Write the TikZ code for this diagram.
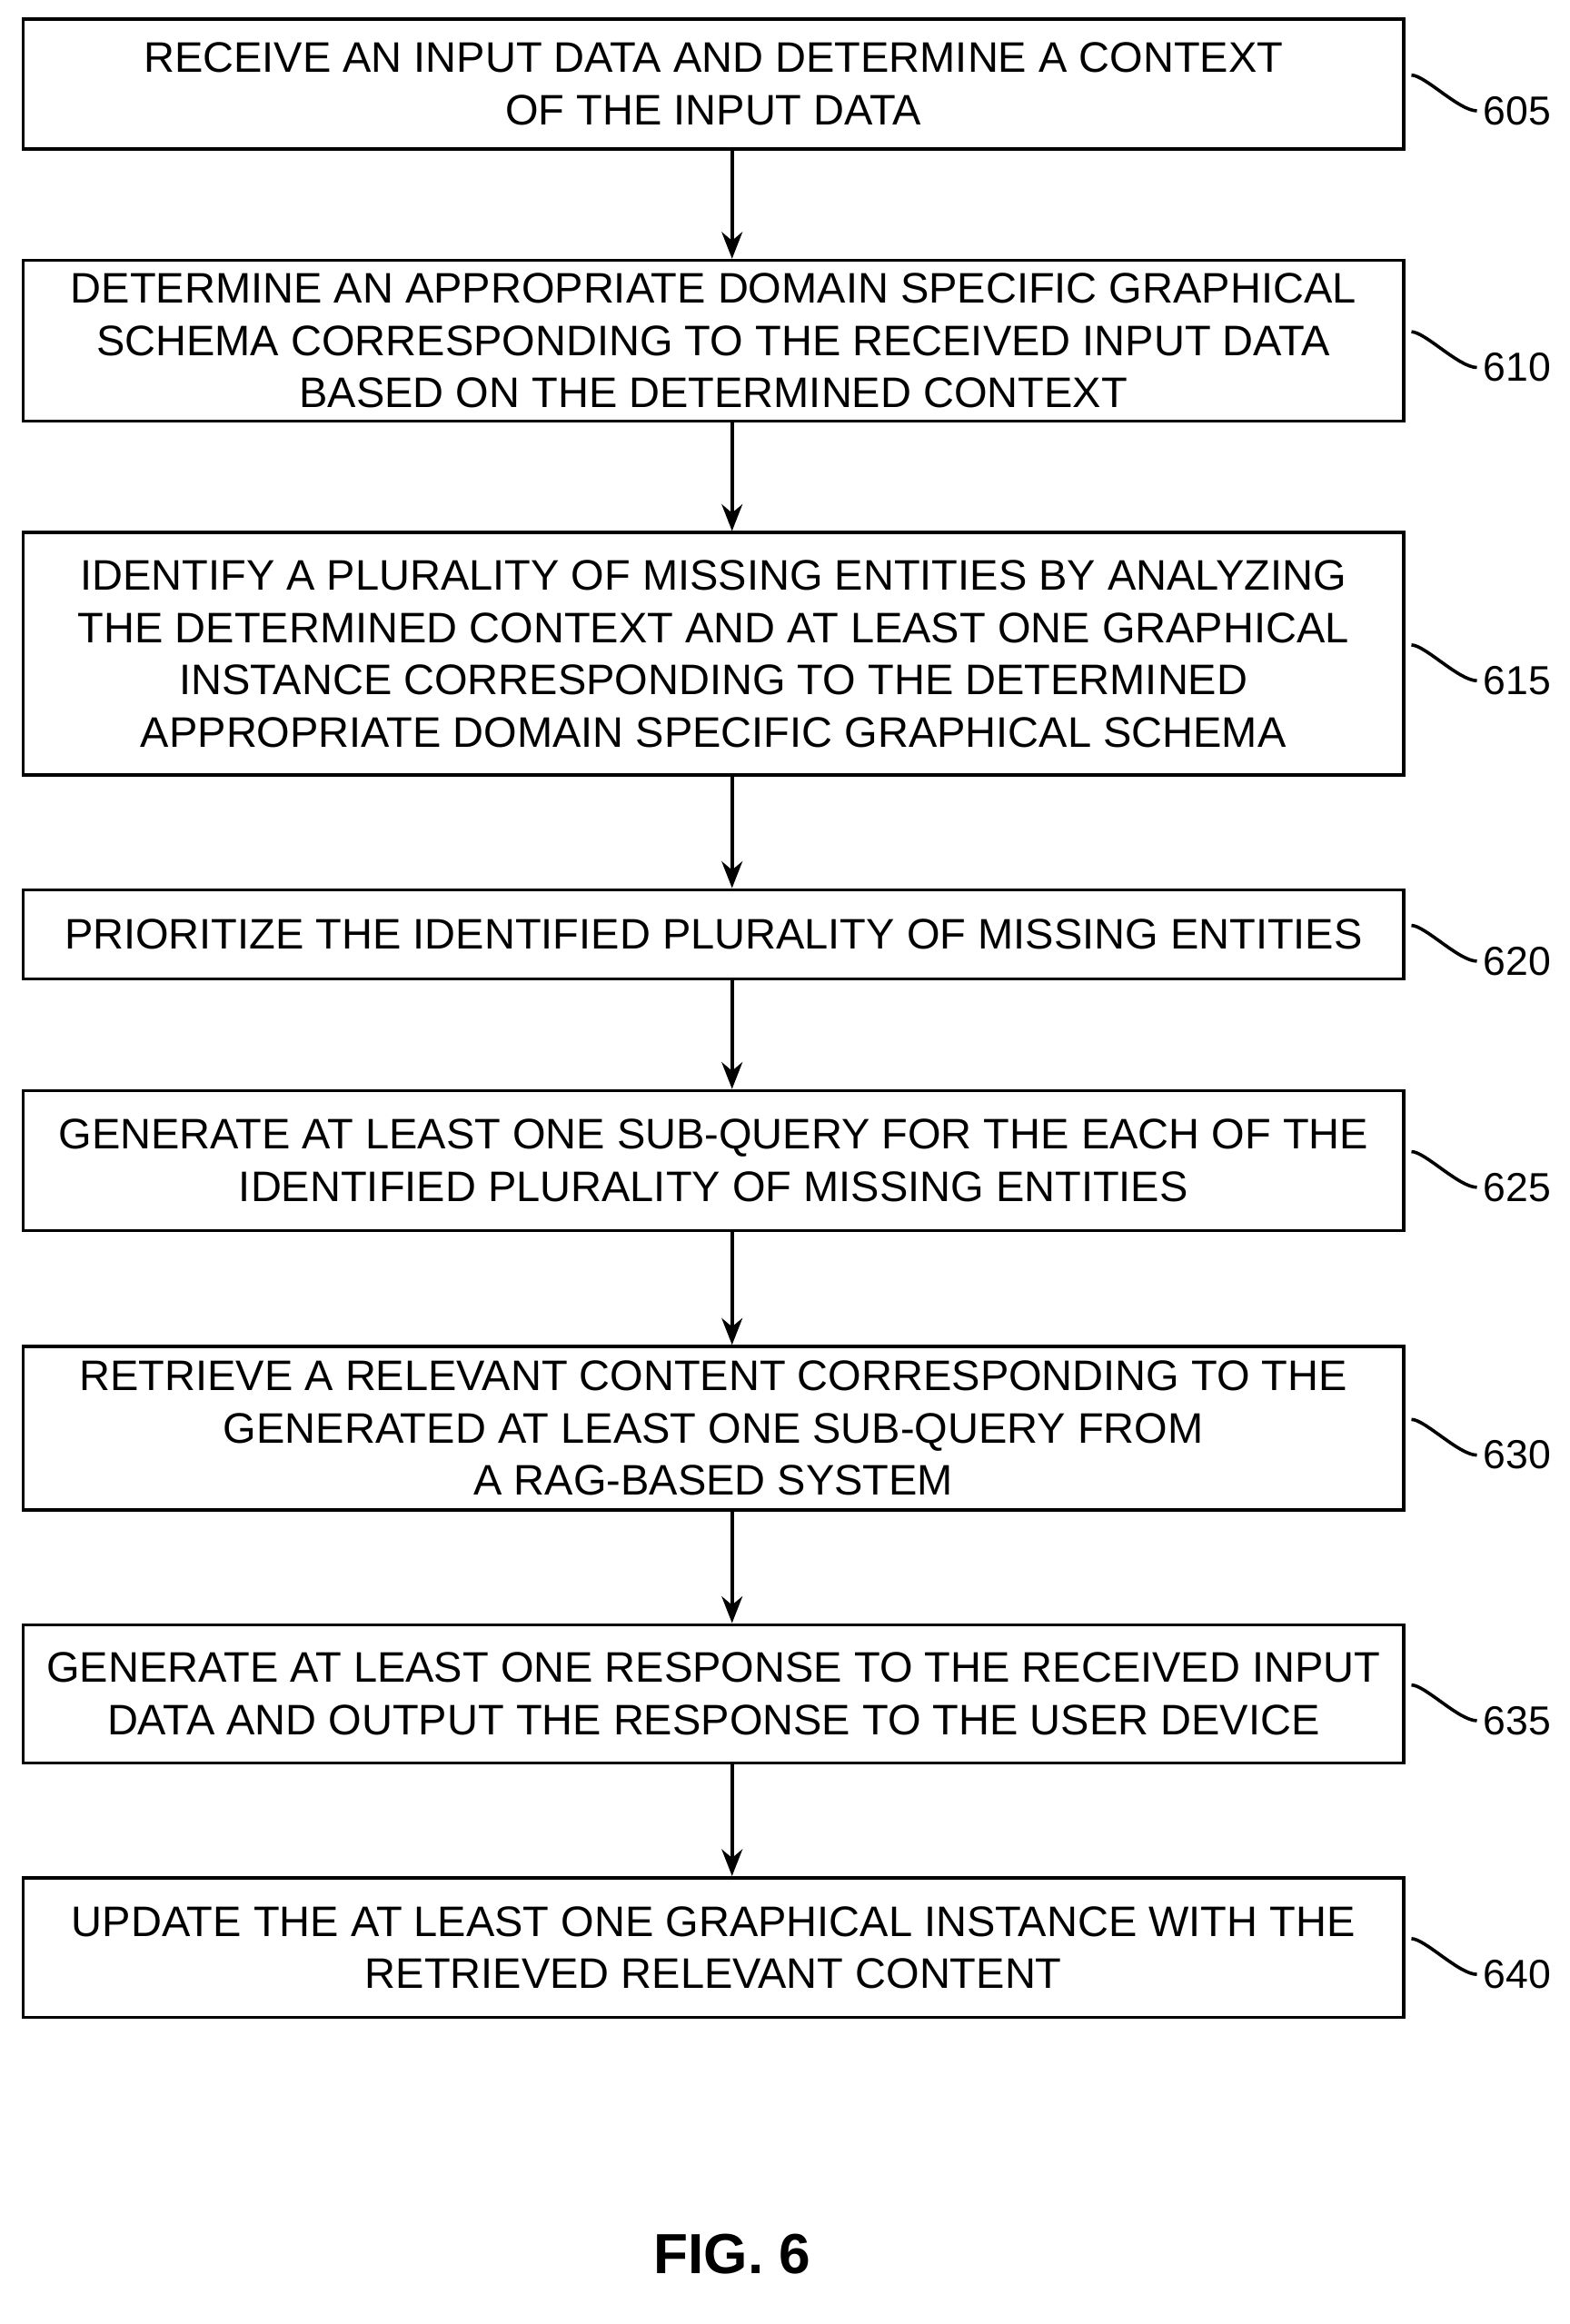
\documentclass[tikz,border=0pt]{standalone}
\usepackage{fontspec}
\setmainfont{Liberation Sans}
\usetikzlibrary{arrows.meta}
\begin{document}
\begin{tikzpicture}[x=0.5pt,y=-0.5pt,
  box/.style={draw,line width=1.1pt,minimum width=464pt,align=center,inner sep=0pt,font=\fontsize{14.35}{17.6}\selectfont},
  arr/.style={-{Stealth[length=9pt,width=7pt]},line width=1.1pt},
  lead/.style={line width=1.1pt},
  lab/.style={anchor=west,inner sep=1pt,font=\fontsize{13.6}{16}\selectfont}]
\useasboundingbox (0,0) rectangle (1055,1562);
\def\B#1#2#3#4#5{%
  \node[box,minimum height=#3*0.5pt] (#1) at (479.5,#2) {#4};
  \coordinate (c#1) at (#1.east);
  \draw[lead] ([xshift=2pt,yshift=3pt]c#1) .. controls +(9,0) and +(-12,0) .. ([xshift=24pt,yshift=-9pt]c#1) coordinate (e#1);
  \node[lab] (l#1) at ([xshift=1pt]e#1) {#5};}
\B{a}{56.5}{87}{RECEIVE AN INPUT DATA AND DETERMINE A CONTEXT\\OF THE INPUT DATA}{605}
\B{b}{229}{108}{DETERMINE AN APPROPRIATE DOMAIN SPECIFIC GRAPHICAL\\SCHEMA CORRESPONDING TO THE RECEIVED INPUT DATA\\BASED ON THE DETERMINED CONTEXT}{610}
\B{c}{439.5}{163}{IDENTIFY A PLURALITY OF MISSING ENTITIES BY ANALYZING\\THE DETERMINED CONTEXT AND AT LEAST ONE GRAPHICAL\\INSTANCE CORRESPONDING TO THE DETERMINED\\APPROPRIATE DOMAIN SPECIFIC GRAPHICAL SCHEMA}{615}
\B{d}{628}{60}{PRIORITIZE THE IDENTIFIED PLURALITY OF MISSING ENTITIES}{620}
\B{e}{780}{94}{GENERATE AT LEAST ONE SUB-QUERY FOR THE EACH OF THE\\IDENTIFIED PLURALITY OF MISSING ENTITIES}{625}
\B{f}{960}{110}{RETRIEVE A RELEVANT CONTENT CORRESPONDING TO THE\\GENERATED AT LEAST ONE SUB-QUERY FROM\\A RAG-BASED SYSTEM}{630}
\B{g}{1138.5}{93}{GENERATE AT LEAST ONE RESPONSE TO THE RECEIVED INPUT\\DATA AND OUTPUT THE RESPONSE TO THE USER DEVICE}{635}
\B{h}{1309}{94}{UPDATE THE AT LEAST ONE GRAPHICAL INSTANCE WITH THE\\RETRIEVED RELEVANT CONTENT}{640}
\foreach \p/\q in {a/b,b/c,c/d,d/e,e/f,f/g,g/h} \draw[arr] ([xshift=6.25pt]\p.south) -- ([xshift=6.25pt]\q.north);
\node[font=\bfseries\fontsize{19}{22}\selectfont] (fig) at (492,1515) {FIG. 6};
\end{tikzpicture}
\end{document}
